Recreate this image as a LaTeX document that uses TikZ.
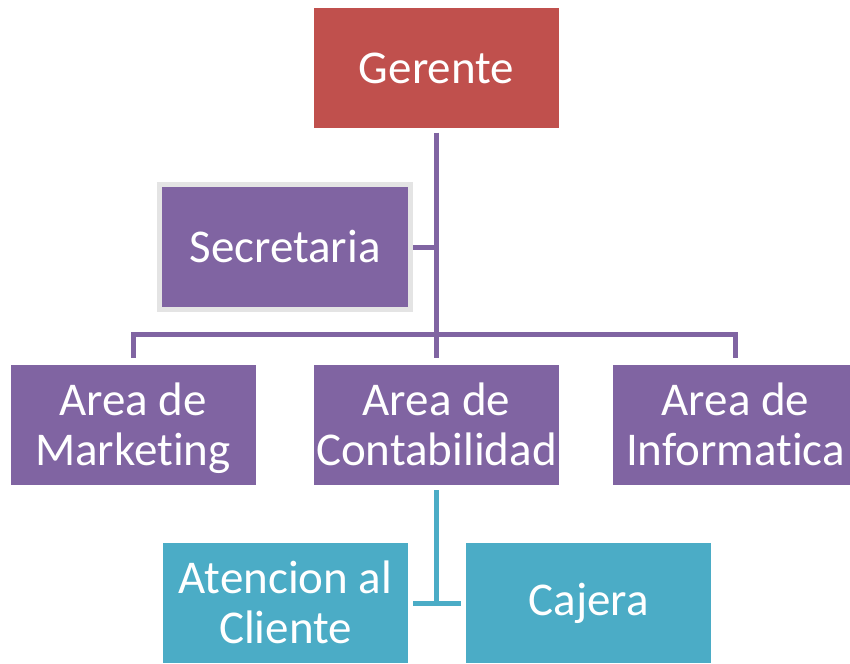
\documentclass[tikz,border=0pt]{standalone}
\usepackage{fontspec}
\setmainfont{Carlito}[Ligatures=NoCommon]
\definecolor{boxred}{HTML}{C0504D}
\definecolor{boxpurple}{HTML}{8064A2}
\definecolor{boxteal}{HTML}{4BACC6}
\definecolor{rimgray}{HTML}{E4E4E4}
\newcommand\tworows[2]{\rule{0pt}{45pt}#1\\#2\rule[-15pt]{0pt}{15pt}}
\tikzset{
    unit/.style={minimum width=245pt, minimum height=120pt, inner sep=0pt,
        text=white, align=center, font=\fontsize{47}{50}\selectfont},
    purpleline/.style={boxpurple, line width=5pt},
    tealline/.style={boxteal, line width=5pt}
}
\begin{document}
\begin{tikzpicture}[x=1pt,y=-1pt]
    \useasboundingbox (0,0) rectangle (850,663);
    \clip (0,0) rectangle (850,663);
    % boxes
    \node [unit,fill=boxred] (gerente) at (436.5,68.5) {Gerente};
    \node [unit,fill=boxpurple,draw=rimgray,line width=5pt,
        minimum width=251pt,minimum height=125pt] (secretaria) at (285,247) {Secretaria};
    \node [unit,fill=boxpurple] (marketing) at (133,425) {\tworows{Area de}{Marketing}};
    \node [unit,fill=boxpurple] (contabilidad) at (436.5,425) {\tworows{Area de}{Contabilidad}};
    \node [unit,fill=boxpurple] (informatica) at (735.5,425) {\tworows{Area de}{Informatica}};
    \node [unit,fill=boxteal] (atencion) at (285.5,603) {\tworows{Atencion al}{Cliente}};
    \node [unit,fill=boxteal] (cajera) at (588.5,603) {Cajera};

    % connectors
    \coordinate (drop) at ([yshift=7pt]contabilidad.north);
    \draw [purpleline] ([yshift=-4pt]gerente.south) -- (drop);
    \draw [purpleline] (secretaria.east) -- (secretaria.east -| gerente.south);
    \draw [purpleline] ([yshift=7pt]marketing.north) |- ([yshift=30pt]contabilidad.north)
        -| ([yshift=7pt]informatica.north);
    \draw [tealline] ([yshift=-5pt]contabilidad.south) -- (contabilidad.south |- atencion.east);
    \draw [tealline] ([xshift=5pt]atencion.east) -- ([xshift=-5pt]cajera.west);
\end{tikzpicture}
\end{document}
